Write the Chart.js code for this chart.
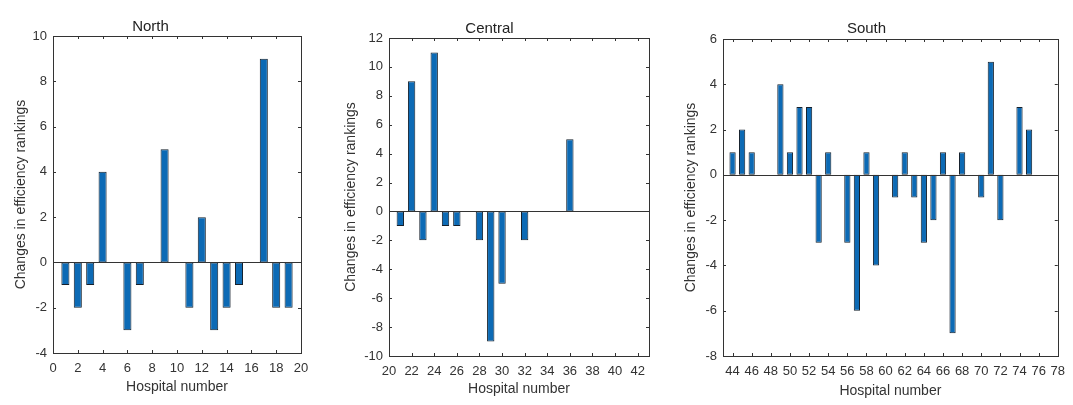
<!DOCTYPE html>
<html>
<head>
<meta charset="utf-8">
<script src="https://cdn.jsdelivr.net/npm/chart.js@4/dist/chart.umd.min.js"></script>
<style>
  html, body { margin: 0; padding: 0; background: #fff; }
  .panel { position: absolute; top: 0; height: 405px; }
</style>
</head>
<body>
<div class="panel" style="left:0;width:330px"><canvas id="northChart" width="330" height="405"></canvas></div>
<div class="panel" style="left:330px;width:340px"><canvas id="centralChart" width="340" height="405"></canvas></div>
<div class="panel" style="left:670px;width:403px"><canvas id="southChart" width="403" height="405"></canvas></div>
<script>
// Change in efficiency ranking per hospital, by region
var northHospitals = [1, 2, 3, 4, 5, 6, 7, 8, 9, 10, 11, 12, 13, 14, 15, 16, 17, 18, 19];
var northChanges = [-1, -2, -1, 4, 0, -3, -1, 0, 5, 0, -2, 2, -3, -2, -1, 0, 9, -2, -2];

var centralHospitals = [21, 22, 23, 24, 25, 26, 27, 28, 29, 30, 31, 32, 33, 34, 35, 36];
var centralChanges = [-1, 9, -2, 11, -1, -1, 0, -2, -9, -5, 0, -2, 0, 0, 0, 5];

var southHospitals = [44, 45, 46, 47, 48, 49, 50, 51, 52, 53, 54, 55, 56, 57, 58, 59, 60,
    61, 62, 63, 64, 65, 66, 67, 68, 69, 70, 71, 72, 73, 74, 75];
var southChanges = [1, 2, 1, 0, 0, 4, 1, 3, 3, -3, 1, 0, -3, -6, 1, -4, 0,
    -1, 1, -1, -3, -2, 1, -7, 1, 0, -1, 5, -2, 0, 3, 2];

var fontFamily = "'Liberation Sans', Arial, sans-serif";
var axisColor = '#333';
var barColor = '#0c6ab5';
var edgeColor = '#15202c';

// box around the plot, inward tick marks and the zero baseline
var boxAxes = {
    id: 'boxAxes',
    afterDatasetsDraw: function (chart) {
        var ctx = chart.ctx;
        var a = chart.chartArea;
        var x = chart.scales.x;
        var y = chart.scales.y;
        var tickLen = 3;
        ctx.save();
        ctx.strokeStyle = axisColor;
        ctx.lineWidth = 1;

        var y0 = Math.round(y.getPixelForValue(0)) + 0.5;
        ctx.beginPath();
        ctx.moveTo(a.left, y0);
        ctx.lineTo(a.right, y0);
        ctx.stroke();

        ctx.beginPath();
        x.ticks.forEach(function (t) {
            var px = Math.round(x.getPixelForValue(t.value)) + 0.5;
            ctx.moveTo(px, a.bottom);
            ctx.lineTo(px, a.bottom - tickLen);
            ctx.moveTo(px, a.top);
            ctx.lineTo(px, a.top + tickLen);
        });
        y.ticks.forEach(function (t) {
            var py = Math.round(y.getPixelForValue(t.value)) + 0.5;
            ctx.moveTo(a.left, py);
            ctx.lineTo(a.left + tickLen, py);
            ctx.moveTo(a.right, py);
            ctx.lineTo(a.right - tickLen, py);
        });
        ctx.stroke();

        ctx.strokeRect(Math.round(a.left) + 0.5, Math.round(a.top) + 0.5,
            Math.round(a.right - a.left), Math.round(a.bottom - a.top));
        ctx.restore();
    }
};

function makeChart(id, title, hospitals, changes, o) {
    var points = hospitals.map(function (h, i) {
        return { x: h, y: changes[i] };
    });
    return new Chart(document.getElementById(id), {
        type: 'bar',
        data: {
            datasets: [{
                data: points,
                backgroundColor: barColor,
                borderColor: edgeColor,
                borderWidth: 1,
                borderSkipped: false,
                inflateAmount: 0,
                categoryPercentage: 1,
                barPercentage: 0.65
            }]
        },
        options: {
            responsive: false,
            animation: false,
            layout: { padding: { left: 0, right: o.rightPad, top: 0, bottom: 0 } },
            plugins: {
                legend: { display: false },
                tooltip: { enabled: false },
                title: {
                    display: true,
                    text: title,
                    color: '#222',
                    font: { family: fontFamily, size: 15, weight: 'normal' },
                    padding: { top: o.titleTop, bottom: o.titleBottom }
                }
            },
            scales: {
                x: {
                    type: 'linear',
                    min: o.xMin,
                    max: o.xMax,
                    offset: false,
                    grid: { display: false, offset: false, drawTicks: false },
                    border: { display: false },
                    ticks: {
                        stepSize: 2,
                        includeBounds: false,
                        autoSkip: false,
                        maxRotation: 0,
                        padding: 8,
                        color: axisColor,
                        font: { family: fontFamily, size: 13 }
                    },
                    title: {
                        display: true,
                        text: 'Hospital number',
                        color: axisColor,
                        font: { family: fontFamily, size: 14 },
                        padding: { top: 0, bottom: o.xTitlePad }
                    },
                    afterFit: function (s) { s.height = o.xAxisHeight; }
                },
                y: {
                    min: o.yMin,
                    max: o.yMax,
                    grid: { display: false, drawTicks: false },
                    border: { display: false },
                    ticks: {
                        stepSize: 2,
                        padding: 6,
                        color: axisColor,
                        font: { family: fontFamily, size: 13 }
                    },
                    title: {
                        display: true,
                        text: 'Changes in efficiency rankings',
                        color: axisColor,
                        font: { family: fontFamily, size: 14 },
                        padding: { top: 13, bottom: 0 }
                    },
                    afterFit: function (s) { s.width = o.yAxisWidth; }
                }
            }
        },
        plugins: [boxAxes]
    });
}

makeChart('northChart', 'North', northHospitals, northChanges, {
    xMin: 0, xMax: 20, yMin: -4, yMax: 10,
    yAxisWidth: 53, xAxisHeight: 52, rightPad: 29,
    titleTop: 18, titleBottom: 0, xTitlePad: 9
});

makeChart('centralChart', 'Central', centralHospitals, centralChanges, {
    xMin: 20, xMax: 43, yMin: -10, yMax: 12,
    yAxisWidth: 59, xAxisHeight: 49, rightPad: 21,
    titleTop: 20, titleBottom: 0, xTitlePad: 7
});

makeChart('southChart', 'South', southHospitals, southChanges, {
    xMin: 43, xMax: 78, yMin: -8, yMax: 6,
    yAxisWidth: 53, xAxisHeight: 49, rightPad: 10,
    titleTop: 20, titleBottom: 1, xTitlePad: 5
});
</script>
</body>
</html>
